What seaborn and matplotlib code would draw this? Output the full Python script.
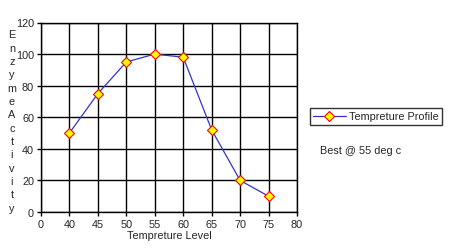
import matplotlib
matplotlib.use("Agg")
import matplotlib.pyplot as plt
import seaborn as sns
import pandas as pd

x_tick_labels = ["0", "40", "45", "50", "55", "60", "65", "70", "75", "80"]
temperatures = ["40", "45", "50", "55", "60", "65", "70", "75"]
activity = [50, 75, 95, 100, 98, 52, 20, 10]
y_ticks = [0, 20, 40, 60, 80, 100, 120]
series_name = "Tempreture Profile"
x_title = "Tempreture Level"
y_title = "EnzymeActivity"
note = "Best @ 55 deg c"

sns.set_style("white")
plt.rcParams["font.family"] = ["Liberation Sans", "DejaVu Sans"]

df = pd.DataFrame({
    "pos": [x_tick_labels.index(t) for t in temperatures],
    "activity": activity,
})

fig = plt.figure(figsize=(4.56, 2.53), dpi=100)
ax = fig.add_axes([41/456, 1 - 213/253, 256/456, (213 - 23.5)/253])

sns.lineplot(data=df, x="pos", y="activity", ax=ax, color="#3333cc", linewidth=0.9,
             marker="D", markersize=5, markerfacecolor="#ffff00", markeredgecolor="#ff0000",
             markeredgewidth=0.8, label=series_name, legend=False)

ax.set_xlim(0, len(x_tick_labels) - 1)
ax.set_ylim(0, 120)
ax.set_xticks(range(len(x_tick_labels)))
ax.set_xticklabels(x_tick_labels)
ax.set_yticks(y_ticks)
ax.grid(True, color="black", linewidth=1)
for s in ax.spines.values():
    s.set_color("black")
    s.set_linewidth(1)
ax.tick_params(axis="both", direction="out", length=3, width=1, color="black",
               labelsize=7.8, pad=2, bottom=True, left=True)
ax.set_xlabel(x_title, fontsize=7.8, labelpad=1)
ax.set_ylabel("")

fig.text(12/456, 1 - 122/253, "\n".join(list(y_title)), ha="center", va="center",
         fontsize=7.8, linespacing=1.42)

handles, labels = ax.get_legend_handles_labels()
leg = fig.legend(handles, labels, loc="center left", bbox_to_anchor=(310/456, 1 - 117.5/253),
                 fontsize=7.8, frameon=True, fancybox=False, edgecolor="black",
                 handlelength=3.0, handletextpad=0.3, borderpad=0.3, borderaxespad=0)
leg.get_frame().set_linewidth(1)

fig.text(320/456, 1 - 151/253, note, ha="left", va="center", fontsize=7.8)

fig.savefig("out.png", dpi=100)
